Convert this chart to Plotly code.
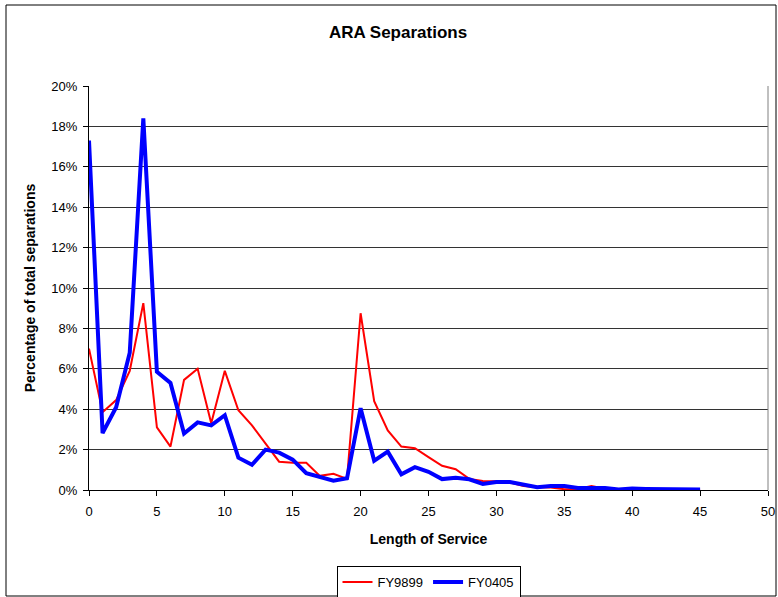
import plotly.graph_objects as go

years = list(range(0, 46))
fy9899 = [7.0, 3.85, 4.45, 5.9, 9.25, 3.1, 2.15, 5.45, 6.0, 3.3,
          5.9, 3.95, 3.2, 2.3, 1.4, 1.35, 1.35, 0.7, 0.8, 0.55,
          8.75, 4.4, 2.95, 2.15, 2.07, 1.63, 1.2, 1.03, 0.55, 0.45,
          0.43, 0.37, 0.2, 0.13, 0.12, 0.04, 0.05, 0.2, 0.06, 0.02,
          0.02, 0.02, 0.02, 0.01, 0.01, 0.01]
fy0405 = [17.3, 2.82, 4.1, 6.8, 18.4, 5.85, 5.3, 2.8, 3.35, 3.2,
          3.7, 1.6, 1.25, 2.0, 1.85, 1.5, 0.83, 0.66, 0.46, 0.58,
          4.05, 1.45, 1.9, 0.78, 1.13, 0.9, 0.54, 0.6, 0.53, 0.3,
          0.4, 0.4, 0.25, 0.14, 0.2, 0.2, 0.1, 0.1, 0.1, 0.03,
          0.07, 0.05, 0.03, 0.03, 0.03, 0.02]

y_ticks = list(range(0, 21, 2))
y_labels = [f"{v}%" for v in y_ticks]
x_ticks = list(range(0, 51, 5))

FONT = "Liberation Sans, Arial, sans-serif"

fig = go.Figure()
fig.add_trace(go.Scatter(x=years, y=fy9899, mode="lines", name="FY9899",
                         line=dict(color="#ff0000", width=2)))
fig.add_trace(go.Scatter(x=years, y=fy0405, mode="lines", name="FY0405",
                         line=dict(color="#0000ff", width=4)))

fig.update_layout(
    width=778, height=597,
    margin=dict(l=89, r=10, t=86, b=107, autoexpand=False),
    paper_bgcolor="white", plot_bgcolor="white",
    font=dict(family=FONT, size=13, color="black"),
    title=dict(text="<b>ARA Separations</b>", x=398/778, xanchor="center",
               y=1 - 32/597, yanchor="middle", font=dict(size=17, family=FONT)),
    showlegend=True,
    legend=dict(orientation="h", x=0.5, xanchor="center",
                y=-(566 - 490) / 404, yanchor="top", bordercolor="black", borderwidth=1,
                font=dict(size=13, family=FONT),
                tracegroupgap=0, traceorder="normal"),
    xaxis=dict(range=[0, 50], tickvals=x_ticks, ticks="outside", ticklen=5,
               tickcolor="black", showline=True, linecolor="black", linewidth=1,
               showgrid=False, zeroline=False, mirror=False, automargin=False,
               tickfont=dict(size=13), ticklabelstandoff=4,
               title=dict(text="<b>Length of Service</b>", font=dict(size=14), standoff=16)),
    yaxis=dict(range=[0, 20], tickvals=y_ticks, ticktext=y_labels, ticks="outside",
               ticklen=5, tickcolor="black", showline=True, linecolor="black",
               linewidth=1, showgrid=True, gridcolor="#333333", gridwidth=1,
               zeroline=False, tickfont=dict(size=13), ticklabelstandoff=3,
               automargin=False,
               title=dict(text="<b>Percentage of total separations</b>",
                          font=dict(size=14), standoff=12)),
)

# plot area right border (grey) and outer chart border
fig.add_shape(type="line", xref="paper", yref="paper", x0=1, x1=1, y0=0, y1=1,
              line=dict(color="#808080", width=1))
fig.add_shape(type="rect", xref="paper", yref="paper",
              x0=(6 - 89) / 679, x1=(776 - 89) / 679,
              y0=(490 - 596) / 404, y1=(490 - 5) / 404,
              line=dict(color="black", width=1), layer="below")

fig.write_html("out.html")
